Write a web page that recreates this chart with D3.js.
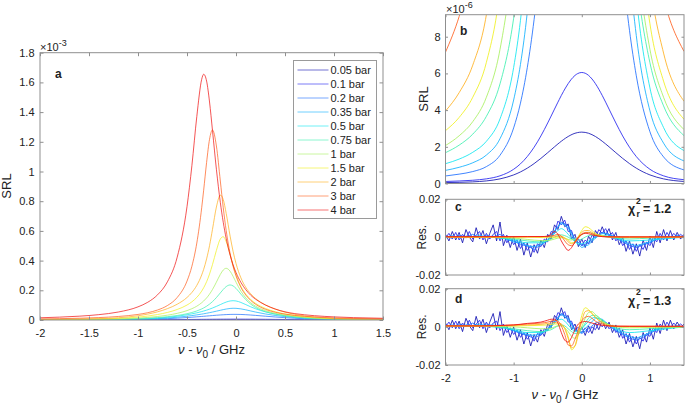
<!DOCTYPE html>
<html><head><meta charset="utf-8">
<script src="https://cdn.jsdelivr.net/npm/d3@7"></script>
<style>
body{margin:0;background:#fff}
svg{display:block;font-family:"Liberation Sans",Arial,Helvetica,sans-serif}
</style>
</head><body>
<svg id="chart" width="685" height="406"></svg>
<script>
// ---------------- DATA ----------------
const pressures = ["0.05 bar","0.1 bar","0.2 bar","0.35 bar","0.5 bar","0.75 bar","1 bar","1.5 bar","2 bar","3 bar","4 bar"];
const lineColors = ["#1414b4","#2424f0","#2070ff","#10b0ff","#10e6f0","#40f0b0","#a8f060","#f0f020","#ffb020","#ff6020","#f01414"];

// frequency detuning (GHz) for SRL spectra
const freqGHz = [-2,-1.8,-1.6,-1.4,-1.2,-1.0,-0.9,-0.8,-0.7,-0.6,-0.5,-0.45,-0.4,-0.35,-0.33,-0.3,-0.27,-0.24,-0.2,-0.16,-0.13,-0.1,-0.06,-0.03,0,0.05,0.1,0.15,0.2,0.3,0.4,0.5,0.6,0.7,0.8,1.0,1.2,1.5];
// SRL values in units of 1e-6
const srl_005 = [0.05,0.063,0.089,0.141,0.252,0.468,0.631,0.836,1.084,1.368,1.68,1.84,2.0,2.156,2.217,2.304,2.388,2.467,2.562,2.644,2.696,2.738,2.777,2.794,2.8,2.784,2.738,2.662,2.562,2.304,2.0,1.68,1.368,1.084,0.836,0.468,0.252,0.11];
const srl_01  = [0.11,0.137,0.177,0.253,0.418,0.775,1.07,1.468,1.975,2.592,3.30,3.675,4.056,4.434,4.582,4.80,5.007,5.203,5.443,5.651,5.782,5.89,5.991,6.036,6.05,6.009,5.89,5.697,5.443,4.80,4.056,3.30,2.592,1.975,1.468,0.775,0.418,0.208];
const srl_02  = [0.41,0.51,0.65,0.92,1.54,3.03,4.38,6.31,8.93,12.33,16.48,18.82,21.32,23.95,25.03,26.66,28.3,29.94,32.06,34.03,35.34,36.44,37.5,37.91,37.98,37.29,35.74,33.56,31.02,25.57,20.31,15.59,11.59,8.35,5.87,2.82,1.45,0.74];
const srl_035 = [0.715,0.883,1.13,1.55,2.44,4.55,6.49,9.32,13.31,18.66,25.6,29.7,34.4,39.6,41.9,45.5,49.4,53.5,59.4,65.5,69.9,73.8,77.7,79.0,78.6,75.0,68.5,61.0,53.5,40.7,30.6,22.6,16.3,11.57,8.06,3.96,2.20,1.23];
const srl_05  = [1.08,1.33,1.70,2.30,3.52,6.32,8.89,12.67,18.07,25.45,35.3,41.4,48.4,56.7,60.4,66.4,73.2,80.6,91.7,103.7,112.7,120.7,128.2,130,128.2,118.2,103.7,88.8,75.6,54.9,40.1,29.1,20.8,14.6,10.2,5.21,3.05,1.79];
const srl_075 = [1.68,2.09,2.69,3.66,5.43,9.01,12.0,16.2,22.1,30.3,42.3,50.5,60.9,74.6,81.2,92.8,106.8,123.7,150.9,182.3,205.9,225.1,236,229.7,213.0,174.2,136.7,106.8,84.8,56.4,39.5,28.4,20.7,15.2,11.3,6.58,4.23,2.61];
const srl_1   = [2.07,2.60,3.37,4.70,7.31,12.70,17.23,23.58,32.4,44.9,63.2,76.1,93.1,116.2,127.8,148.6,174.2,205.3,254.9,306.8,336.7,348,328.3,294.4,254.9,194.3,148.6,116.2,93.1,63.2,44.9,32.4,23.6,17.2,12.7,7.31,4.70,2.94];
const srl_15  = [2.88,3.6,4.7,6.6,10.56,19.3,26.6,36.9,50.9,70.9,100.7,122.4,152.2,194.7,217.0,257.8,309.5,373.0,468.6,545.6,561,527.6,440.4,368.5,305.8,227.0,174.0,137.9,112.1,77.8,55.8,40.3,29.2,21.1,15.4,8.71,5.58,3.50];
const srl_2   = [3.95,4.95,6.45,9.2,15.2,28.5,39.7,55.1,76.3,106.2,151.6,185.6,233.1,303.6,341.1,411.6,500.6,610.0,760.6,841,811.2,718.0,564.5,463.1,381.1,283.7,219.6,176.6,144.8,101.9,73.4,53.0,38.1,27.4,19.9,11.1,7.11,4.48];
const srl_3   = [7.16,9.10,11.94,16.37,23.7,37.5,49.2,67.4,97.4,151.7,262,362,518,756,874,1061,1217,1280,1172,936,756,602,448,362,297,220,168,132,106,72.2,52.2,39.5,30.8,24.8,20.3,13.8,10.1,7.2];
const srl_4   = [15.0,19.3,25.7,36.0,53.8,88.5,119.7,169.9,257,423,763,1040,1370,1621,1655,1609,1468,1277,1015,792,658,549,437,372,320,253,204,167,140,101,74,55,43,35,29,21,16,11.5];

// residual frequency grids (GHz)
const resFreqFine = [-2,-1.95,-1.9,-1.85,-1.8,-1.75,-1.7,-1.65,-1.6,-1.55,-1.5,-1.45,-1.4,-1.35,-1.3,-1.25,-1.2,-1.15,-1.1,-1.05,-1,-0.95,-0.9,-0.85,-0.8,-0.75,-0.7,-0.65,-0.6,-0.55,-0.5,-0.45,-0.4,-0.35,-0.3,-0.25,-0.2,-0.15,-0.1,-0.05,0,0.05,0.1,0.15,0.2,0.25,0.3,0.35,0.4,0.45,0.5,0.55,0.6,0.65,0.7,0.75,0.8,0.85,0.9,0.95,1,1.05,1.1,1.15,1.2,1.25,1.3,1.35,1.4,1.45,1.5];
const resFreqMid = [-2,-1.9,-1.8,-1.7,-1.6,-1.5,-1.4,-1.3,-1.2,-1.1,-1,-0.9,-0.8,-0.7,-0.6,-0.5,-0.4,-0.3,-0.2,-0.1,0,0.1,0.2,0.3,0.4,0.5,0.6,0.7,0.8,0.9,1,1.1,1.2,1.3,1.4,1.5];
const resFreqCoarse = [-2,-1.5,-1,-0.8,-0.6,-0.5,-0.45,-0.4,-0.35,-0.3,-0.25,-0.2,-0.15,-0.1,-0.05,0,0.05,0.1,0.15,0.2,0.3,0.4,0.5,0.7,1.0,1.5];

// residuals, panel c (units of 1e-3)
const resC_005 = [1.5,-2.0,3.0,-1.5,2.5,-3.0,4.0,0.0,-2.5,5.0,-1.0,3.5,-3.5,2.0,6.5,-2.0,8.0,-4.5,1.0,-5.5,0.5,-7.0,-1.0,-9.5,-3.0,-10.5,-4.0,-8.5,-1.5,-5.5,1.5,-1.0,6.5,4.0,11.0,5.5,7.0,-1.0,1.5,-5.0,-1.0,-5.5,0.5,-3.0,3.5,0.5,5.5,1.0,4.5,-1.5,2.5,-4.0,0.0,-7.5,-2.0,-9.0,-3.5,-10.0,-1.5,-7.0,0.5,-5.5,3.0,-3.0,4.0,-2.0,3.5,-1.5,2.5,-1.0,1.5];
const resC_01  = [-0.5,2.0,-1.0,2.5,-1.5,1.5,-0.5,3.0,-1.0,1.0,3.0,-1.5,2.0,-1.0,1.5,3.0,-2.0,1.5,-3.0,0.0,-4.0,-1.5,-6.0,-3.0,-7.0,-4.5,-8.0,-3.5,-5.0,-1.0,-2.5,3.0,2.0,8.5,6.5,9.0,3.0,3.5,-2.5,-1.0,-4.5,-1.5,-3.5,1.0,-0.5,4.0,2.0,4.5,0.5,2.5,-2.0,0.5,-4.5,-2.0,-6.5,-3.5,-7.5,-4.0,-6.5,-2.5,-4.5,0.0,-2.5,2.0,-1.5,2.5,-0.5,2.0,0.0,1.5,0.0];
const resC_02  = [0.5,-0.5,1.0,0.0,1.5,-0.5,1.0,0.0,1.5,-1.5,-2.0,-4.0,-4.5,-6.5,-4.0,-2.0,3.0,8.0,6.0,-1.0,-4.5,-3.0,0.5,2.5,1.5,-0.5,-2.5,-4.5,-5.5,-4.0,-3.0,-1.0,0.5,-0.5,1.0,0.0];
const resC_035 = [0.0,0.8,-0.5,0.5,0.0,1.0,0.0,0.5,-0.5,-1.0,-2.5,-3.0,-4.5,-5.0,-4.0,-1.5,3.5,7.5,5.0,-2.0,-5.5,-4.0,-0.5,2.0,1.5,0.0,-2.0,-3.5,-4.5,-3.5,-2.5,-1.0,0.0,0.0,0.5,0.0];
const resC_05  = [0,0.3,-1.5,-3,-3,-1.5,0,2,3.5,4.5,3.5,1.5,-0.5,-2.5,-3.5,-3.5,-3,-2,-1,0,1,0.5,-0.5,-2,-1.5,0];
const resC_075 = [0,0,-1,-2,-2.5,-2,-1,0,0.8,1.2,0.8,0,-1,-1.5,-1.5,-1,0,0.8,1,1,0.5,0,-0.5,-1,-0.5,0];
const resC_1   = [0,0,-0.5,-1.2,-1.8,-1.8,-1.5,-1,-0.5,-0.3,-0.5,-1.2,-1.5,-1,0,1.2,2.2,2.5,2,1.5,0.6,0.2,0,-0.3,-0.2,0];
const resC_15  = [0,0,0,0,-0.2,-0.3,-0.3,-0.2,0,0,-0.5,-1.5,-3,-2.5,0.5,3.5,5.5,5,3.5,2,0.8,0.2,0,0,0,0];
const resC_2   = [0,0,0,0.2,0.3,0.4,0.5,0.5,0.5,0.5,-0.5,-2.5,-3.5,-2.5,0,2.5,3.5,3.5,2.5,1.5,0.5,0.2,0,0,0,0];
const resC_3   = [0,0.1,0.2,0.3,0.3,0.3,0.6,1,1.5,0.5,-2,-4,-4.5,-3,-0.5,1.5,2.5,2.5,1.8,1,0.3,0.1,0,0,0,0];
const resC_4   = [0.3,0.3,0.3,0.3,0.3,0.5,1.5,3,1.5,-2,-5,-7,-5.5,-2.5,0,1.5,2,1.8,1.2,0.8,0.3,0.2,0.2,0.2,0.2,0.2];

// residuals, panel d (units of 1e-3)
const resD_005 = [2.0,-1.5,3.5,-1.0,3.0,-2.5,4.5,0.5,-2.0,5.5,-0.5,4.0,-3.0,2.5,7.0,-1.5,8.0,-4.5,1.0,-5.5,0.0,-7.0,-1.5,-9.0,-3.0,-10.0,-4.0,-8.0,-1.5,-5.0,1.5,-0.5,6.0,3.5,10.0,4.5,6.0,-1.5,1.5,-4.0,0.0,-4.5,0.5,-3.5,2.0,-1.5,3.5,-1.0,2.5,-3.0,1.0,-5.5,-1.5,-9.0,-3.5,-10.5,-5.0,-11.5,-3.0,-8.0,-0.5,-6.5,2.0,-3.5,3.5,-2.0,3.5,-1.0,2.5,-0.5,1.5];
const resD_01  = [0.0,2.5,-0.5,3.0,-1.0,2.0,0.0,3.5,-0.5,1.5,3.5,-1.0,2.5,-0.5,2.0,3.0,-2.0,1.5,-3.0,-0.5,-4.0,-1.5,-5.5,-3.0,-6.5,-4.0,-7.5,-3.5,-4.5,-1.0,-2.0,3.0,2.0,7.5,6.0,8.0,2.5,3.0,-2.0,0.0,-3.0,-0.5,-3.0,0.0,-1.5,2.0,0.0,2.5,-1.0,1.0,-3.0,-0.5,-6.0,-3.5,-8.0,-5.0,-9.0,-5.5,-7.5,-3.5,-5.0,-0.5,-3.0,1.5,-1.5,2.5,-0.5,2.0,0.0,1.5,0.0];
const resD_02  = [1.0,0.0,1.5,0.5,2.0,0.0,1.5,0.5,1.0,-1.0,-2.0,-3.5,-4.5,-6.0,-4.0,-1.5,3.0,7.0,5.0,-1.5,-3.5,-1.0,2.0,3.0,0.5,-2.0,-4.0,-6.0,-7.0,-5.5,-3.5,-1.5,0.0,-0.5,0.5,0.0];
const resD_035 = [0.5,1.0,0.0,1.0,0.5,1.5,0.5,1.0,0.0,-0.5,-2.0,-3.0,-4.0,-4.5,-3.5,-1.0,3.0,6.5,4.0,-2.0,-3.0,1.0,4.5,4.0,1.0,-1.5,-3.5,-5.0,-6.0,-4.5,-3.0,-1.0,0.0,0.0,0.5,0.0];
const resD_05  = [0.5,0.5,-1.5,-3,-3,-1.5,0,2,3.5,4,3,1,-1,-2.5,-2.5,-1,1,3,4.5,5,3,1,-1,-3,-2,0];
const resD_075 = [0.3,0.3,-1,-2,-2.5,-2,-1.5,-0.5,0.5,1,0.5,-1,-2.5,-3.5,-3,-1,2,4.5,6,6,3.5,1,-0.5,-1.5,-1,0];
const resD_1   = [0.3,0.3,0,-0.5,-1,-1,-0.8,0,0.5,0.5,-0.5,-2.5,-5,-6,-4,0,4.5,7.5,8,6.5,3,1,0,-0.5,-0.3,0];
const resD_15  = [0.5,0.5,0.5,0.6,0.8,1,1.2,1.5,1.5,1,-0.5,-5,-12,-10,-2,6,10,9,7,5,2.5,1,0.3,0,0,0];
const resD_2   = [0.5,0.5,0.8,1,1.3,1.8,2,2.3,2,1.5,-1,-6,-11,-10,-4,3,8,8.5,7,5,2,0.5,0.2,0.2,0.2,0.2];
const resD_3   = [0.5,0.5,1,1.5,2,2.5,3,3.5,3,0.5,-4,-9.5,-10,-6.5,-1.5,3,5,5.5,4.5,3,1.5,0.5,0.3,0.3,0.3,0.3];
const resD_4   = [0.5,0.5,1,1.8,2.5,3.5,4,4,2,-3,-7,-8,-5.5,-1.5,1.5,2.5,2.8,2.5,2,1.5,0.8,0.5,0.4,0.3,0.3,0.3];

const chi2c = "1.2", chi2d = "1.3";

// tick values
const xTicksA = [-2,-1.5,-1,-0.5,0,0.5,1,1.5];
const yTicksA = [0,0.2,0.4,0.6,0.8,1,1.2,1.4,1.6,1.8];   // x 1e-3
const xTicksR = [-2,-1,0,1];
const yTicksB = [0,2,4,6,8];                              // x 1e-6
const yTicksR = [-0.02,0,0.02];

// ---------------- DRAWING ----------------
const svg = d3.select("#chart");
const frameColor = "#8f8f8f";
const textColor = "#222";
const fmt = d => String(+d.toFixed(3));

function makePanel(id, x0, x1, y0, y1, xDom, yDom) {
  const x = d3.scaleLinear().domain(xDom).range([x0, x1]);
  const y = d3.scaleLinear().domain(yDom).range([y1, y0]);
  svg.append("clipPath").attr("id", "clip-" + id)
    .append("rect").attr("x", x0).attr("y", y0).attr("width", x1 - x0).attr("height", y1 - y0);
  const g = svg.append("g");
  const plot = g.append("g").attr("clip-path", `url(#clip-${id})`);
  return {x, y, g, plot, x0, x1, y0, y1};
}

function drawAxes(p, o) {
  const t = o.tick;
  const style = sel => {
    sel.select(".domain").remove();
    sel.selectAll(".tick line").attr("stroke", frameColor);
    sel.selectAll(".tick text").attr("fill", textColor).style("font-size", "11px");
  };
  p.g.append("g").attr("transform", `translate(0,${p.y1})`)
    .call(d3.axisBottom(p.x).tickValues(o.xTicks).tickSize(-t).tickPadding(9)
      .tickFormat(o.showX ? fmt : () => "")).call(style);
  p.g.append("g").attr("transform", `translate(0,${p.y0})`)
    .call(d3.axisTop(p.x).tickValues(o.xTicks).tickSize(-t).tickFormat(() => "")).call(style);
  p.g.append("g").attr("transform", `translate(${p.x0},0)`)
    .call(d3.axisLeft(p.y).tickValues(o.yTicks).tickSize(-t).tickPadding(o.yPad)
      .tickFormat(o.yFmt)).call(style);
  p.g.append("g").attr("transform", `translate(${p.x1},0)`)
    .call(d3.axisRight(p.y).tickValues(o.yTicks).tickSize(-t).tickFormat(() => "")).call(style);
  p.g.append("rect").attr("x", p.x0).attr("y", p.y0)
    .attr("width", p.x1 - p.x0).attr("height", p.y1 - p.y0)
    .attr("fill", "none").attr("stroke", frameColor).attr("stroke-width", 1);
}

function addText(x, y, str, opts = {}) {
  const t = svg.append("text").attr("x", x).attr("y", y).text(str)
    .attr("fill", textColor).style("font-size", (opts.size || 11) + "px");
  if (opts.bold) t.style("font-weight", "bold");
  if (opts.anchor) t.attr("text-anchor", opts.anchor);
  if (opts.rotate) t.attr("transform", `rotate(-90,${x},${y})`);
  return t;
}

function xLabel(cx, y) {
  const t = svg.append("text").attr("x", cx).attr("y", y).attr("text-anchor", "middle")
    .attr("fill", textColor).style("font-size", "13px");
  t.append("tspan").text("ν").style("font-style", "italic");
  t.append("tspan").text(" - ");
  t.append("tspan").text("ν").style("font-style", "italic");
  t.append("tspan").text("0").attr("dy", 4).style("font-size", "10px");
  t.append("tspan").text(" / GHz").attr("dy", -4);
}

function exponent(x, y, e) {
  const t = svg.append("text").attr("x", x).attr("y", y).attr("fill", textColor).style("font-size", "11px");
  t.append("tspan").text("×10");
  t.append("tspan").text(e).attr("dy", -5).style("font-size", "9px");
}

// ---------- panel a ----------
const pa = makePanel("a", 40, 383, 52.7, 320, [-2, 1.5], [0, 1.8e-3]);
drawAxes(pa, {xTicks: xTicksA, yTicks: yTicksA.map(v => v * 1e-3), showX: true, tick: 3.5, yPad: 5.5,
  yFmt: d => fmt(d * 1e3)});
const srlSeries = [srl_005, srl_01, srl_02, srl_035, srl_05, srl_075, srl_1, srl_15, srl_2, srl_3, srl_4];
const lineA = d3.line().x((d, i) => pa.x(freqGHz[i])).y(d => pa.y(d * 1e-6)).curve(d3.curveMonotoneX);
srlSeries.forEach((vals, i) => {
  pa.plot.append("path").datum(vals).attr("d", lineA).attr("fill", "none")
    .attr("stroke", lineColors[i]).attr("stroke-opacity", 0.72).attr("stroke-width", 1);
});
exponent(40, 50.5, "-3");
addText(10.5, 186, "SRL", {size: 13, anchor: "middle", rotate: true});
addText(55, 78, "a", {size: 12, bold: true});
xLabel(211.5, 354);

// legend
const leg = svg.append("g");
leg.append("rect").attr("x", 293.5).attr("y", 60.5).attr("width", 83).attr("height", 158)
  .attr("fill", "#fff").attr("stroke", "#9a9a9a").attr("stroke-width", 1);
pressures.forEach((p, i) => {
  const yy = 70 + i * 14;
  leg.append("line").attr("x1", 297.5).attr("x2", 328.5).attr("y1", yy).attr("y2", yy)
    .attr("stroke", lineColors[i]).attr("stroke-opacity", 0.6).attr("stroke-width", 1);
  leg.append("text").attr("x", 330.5).attr("y", yy + 4).text(p).attr("fill", textColor).style("font-size", "11px");
});

// ---------- panel b ----------
const pb = makePanel("b", 445.5, 684, 14.7, 183.5, [-2, 1.5], [0, 9.2e-6]);
drawAxes(pb, {xTicks: xTicksR, yTicks: yTicksB.map(v => v * 1e-6), showX: false, tick: 2.5, yPad: 5,
  yFmt: d => fmt(d * 1e6)});
const lineB = d3.line().x((d, i) => pb.x(freqGHz[i])).y(d => pb.y(d * 1e-6)).curve(d3.curveMonotoneX);
srlSeries.forEach((vals, i) => {
  pb.plot.append("path").datum(vals).attr("d", lineB).attr("fill", "none")
    .attr("stroke", lineColors[i]).attr("stroke-opacity", 0.85).attr("stroke-width", 1);
});
exponent(446, 12.5, "-6");
addText(428, 99, "SRL", {size: 13, anchor: "middle", rotate: true});
addText(460, 35, "b", {size: 12, bold: true});

// ---------- panels c and d ----------
function residualPanel(id, y0, y1, series, label, labelY, chi, showX) {
  const p = makePanel(id, 445.5, 684, y0, y1, [-2, 1.5], [-0.02, 0.02]);
  drawAxes(p, {xTicks: xTicksR, yTicks: yTicksR, showX: showX, tick: 2.5, yPad: 5, yFmt: fmt});
  series.forEach((s, i) => {
    const line = d3.line().x((d, k) => p.x(s.f[k])).y(d => p.y(d * 1e-3))
      .curve(s.smooth ? d3.curveMonotoneX : d3.curveLinear);
    p.plot.append("path").datum(s.v).attr("d", line).attr("fill", "none")
      .attr("stroke", lineColors[i]).attr("stroke-opacity", 0.85).attr("stroke-width", 1);
  });
  addText(426, (y0 + y1) / 2, "Res.", {size: 12, anchor: "middle", rotate: true});
  addText(455, labelY, label, {size: 12, bold: true});
  const cy = labelY + 2.6;
  addText(628, cy, "χ", {size: 12.5, bold: true});
  addText(636, cy - 9.8, "2", {size: 8.5, bold: true});
  addText(636.5, cy + 3.8, "r", {size: 8.5, bold: true});
  addText(643, cy, "= " + chi, {size: 12.5, bold: true});
  return p;
}
const seriesC = [
  {f: resFreqFine, v: resC_005}, {f: resFreqFine, v: resC_01},
  {f: resFreqMid, v: resC_02}, {f: resFreqMid, v: resC_035},
  {f: resFreqCoarse, v: resC_05, smooth: true}, {f: resFreqCoarse, v: resC_075, smooth: true},
  {f: resFreqCoarse, v: resC_1, smooth: true}, {f: resFreqCoarse, v: resC_15, smooth: true},
  {f: resFreqCoarse, v: resC_2, smooth: true}, {f: resFreqCoarse, v: resC_3, smooth: true},
  {f: resFreqCoarse, v: resC_4, smooth: true}];
const seriesD = [
  {f: resFreqFine, v: resD_005}, {f: resFreqFine, v: resD_01},
  {f: resFreqMid, v: resD_02}, {f: resFreqMid, v: resD_035},
  {f: resFreqCoarse, v: resD_05, smooth: true}, {f: resFreqCoarse, v: resD_075, smooth: true},
  {f: resFreqCoarse, v: resD_1, smooth: true}, {f: resFreqCoarse, v: resD_15, smooth: true},
  {f: resFreqCoarse, v: resD_2, smooth: true}, {f: resFreqCoarse, v: resD_3, smooth: true},
  {f: resFreqCoarse, v: resD_4, smooth: true}];
residualPanel("c", 199.3, 275, seriesC, "c", 210.7, chi2c, false);
residualPanel("d", 288.7, 365, seriesD, "d", 302.5, chi2d, true);
xLabel(565, 399);
</script>
</body></html>
